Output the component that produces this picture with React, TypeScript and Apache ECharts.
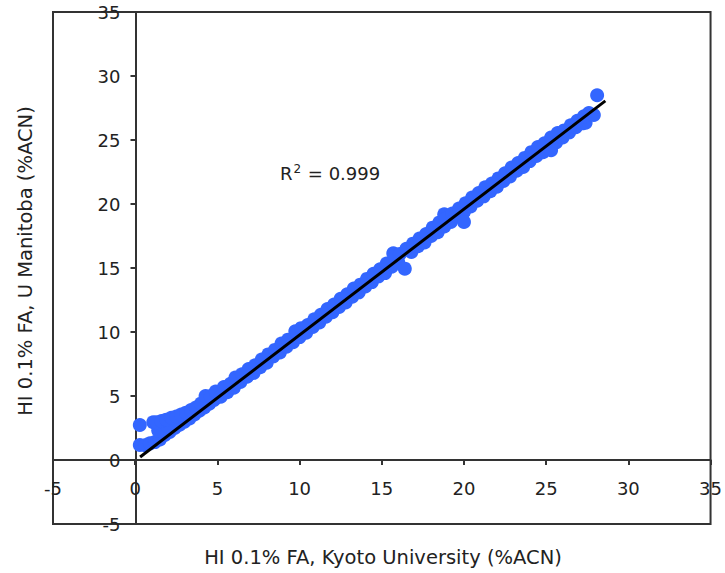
import React, { useEffect, useRef } from "react";
import * as echarts from "echarts";

// HI 0.1% FA: Kyoto University (x) vs U Manitoba (y), %ACN
const lowUpper: number[][] = [
  [1.1, 2.95], [1.3, 2.95], [1.6, 3.05], [1.9, 3.15], [2.2, 3.3], [2.5, 3.4],
  [2.8, 3.55], [3.1, 3.7], [3.4, 3.9], [3.7, 4.1], [4.0, 4.4], [4.28, 5.0],
  [4.6, 5.0], [4.9, 5.35],
];
const lowLower: number[][] = [
  [0.28, 1.17], [0.6, 1.15], [0.9, 1.3], [1.2, 1.4], [1.5, 1.6], [1.8, 1.95],
  [2.1, 2.2], [2.4, 2.5], [2.7, 2.75], [3.0, 3.0], [3.3, 3.25], [3.6, 3.55],
  [3.9, 3.85], [4.2, 4.1], [4.5, 4.4], [4.8, 4.7],
];
const lowFill: number[][] = [
  [1.4, 2.3], [2.0, 2.6], [2.6, 3.0], [3.2, 3.4], [3.8, 3.9],
];
const upperStrand: number[][] = [
  [5.4, 5.7], [5.8, 5.95], [6.1, 6.45], [6.5, 6.7], [6.9, 7.1], [7.3, 7.4],
  [7.7, 7.85], [8.1, 8.25], [8.5, 8.6], [8.9, 9.1], [9.3, 9.4], [9.74, 10.05],
  [10.1, 10.3], [10.5, 10.55], [10.9, 11.0], [11.3, 11.35], [11.7, 11.8],
  [12.1, 12.15], [12.5, 12.6], [12.9, 12.95], [13.3, 13.4], [13.7, 13.7],
  [14.1, 14.15], [14.5, 14.55], [14.9, 14.9], [15.3, 15.35], [15.7, 16.15],
  [16.1, 16.1], [16.5, 16.5], [16.9, 16.9], [17.3, 17.3], [17.7, 17.65],
  [18.1, 18.15], [18.5, 18.55], [18.8, 19.2], [18.9, 18.85], [19.3, 19.25],
  [19.7, 19.65], [20.1, 20.05], [20.5, 20.5], [20.9, 20.85], [21.3, 21.3],
  [21.7, 21.6], [22.1, 22.0], [22.5, 22.4], [22.9, 22.85], [23.3, 23.2],
  [23.7, 23.6], [24.1, 24.05], [24.5, 24.45], [24.9, 24.75], [25.3, 25.2],
  [25.7, 25.55], [26.1, 25.75], [26.5, 26.15], [26.9, 26.5], [27.3, 26.85],
  [27.6, 27.1],
];
const lowerStrand: number[][] = [
  [5.2, 4.95], [5.6, 5.3], [6.0, 5.65], [6.4, 6.1], [6.8, 6.5], [7.2, 6.8],
  [7.6, 7.25], [8.0, 7.6], [8.4, 8.1], [8.8, 8.4], [9.2, 8.85], [9.6, 9.2],
  [10.0, 9.6], [10.4, 9.95], [10.8, 10.4], [11.2, 10.75], [11.6, 11.2],
  [12.0, 11.55], [12.4, 11.95], [12.8, 12.3], [13.2, 12.75], [13.6, 13.1],
  [14.0, 13.55], [14.4, 13.9], [14.8, 14.35], [15.2, 14.6], [15.6, 15.1],
  [16.0, 15.45], [16.8, 16.25], [17.2, 16.7], [17.6, 17.0], [18.0, 17.5],
  [18.4, 17.8], [18.8, 18.25], [19.2, 18.6], [19.6, 19.05], [20.0, 19.4],
  [20.4, 19.8], [20.8, 20.25], [21.2, 20.6], [21.6, 21.0], [22.0, 21.35],
  [22.4, 21.8], [22.8, 22.15], [23.2, 22.6], [23.6, 22.9], [24.0, 23.35],
  [24.4, 23.75], [24.8, 24.05], [25.6, 24.8], [26.0, 25.2], [26.4, 25.6],
  [26.8, 26.0], [27.2, 26.3], [27.4, 26.35],
];
const outliers: number[][] = [
  [0.28, 2.73], [16.4, 14.95], [20.0, 18.6], [25.3, 24.2], [27.9, 26.95], [28.1, 28.5],
];

const trendSlope = 0.983;
const trendIntercept = -0.06;
const trendXRange = [0.3, 28.6];
const rSquared = "0.999";

const axisTitleX = "HI 0.1% FA, Kyoto University (%ACN)";
const axisTitleY = "HI 0.1% FA, U Manitoba (%ACN)";

const FONT = "Verdana, 'DejaVu Sans', sans-serif";
const INK = "#222";

const GRID = { left: 53, right: 12, top: 12, bottom: 49 };
const AX_MIN = -5;
const AX_MAX = 35;

export default function App() {
  const ref = useRef<HTMLDivElement>(null);
  useEffect(() => {
    if (!ref.current) return;
    const chart = echarts.init(ref.current, undefined, { renderer: "svg" });
    const points = [...lowLower, ...lowFill, ...lowUpper, ...lowerStrand, ...upperStrand, ...outliers];
    const trend = trendXRange.map((x) => [x, trendSlope * x + trendIntercept]);
    const plotW = 725 - GRID.left - GRID.right;
    const plotH = 573 - GRID.top - GRID.bottom;
    // move axes so they cross at zero (labels follow)
    const xOffset = -(plotH * (0 - AX_MIN)) / (AX_MAX - AX_MIN);
    const yOffset = -(plotW * (0 - AX_MIN)) / (AX_MAX - AX_MIN);
    const axisCommon = {
      type: "value" as const,
      min: AX_MIN,
      max: AX_MAX,
      interval: 5,
      splitLine: { show: false },
      axisLine: { show: true, onZero: false, lineStyle: { color: "#333", width: 2 } },
      axisTick: { show: true, length: 5, lineStyle: { color: "#333", width: 2 } },
    };
    chart.setOption({
      animation: false,
      backgroundColor: "#fff",
      grid: {
        ...GRID,
        show: true, borderColor: "#333", borderWidth: 2, backgroundColor: "transparent",
      },
      xAxis: {
        ...axisCommon,
        offset: xOffset,
        axisLabel: { fontSize: 18, color: INK, fontFamily: FONT, margin: 19, showMinLabel: true, showMaxLabel: true },
      },
      yAxis: {
        ...axisCommon,
        offset: yOffset,
        axisLabel: { fontSize: 18, color: INK, fontFamily: FONT, margin: 15, showMinLabel: true, showMaxLabel: true },
      },
      series: [
        {
          type: "scatter",
          data: points,
          symbolSize: 14,
          itemStyle: { color: "#3366FF", opacity: 1 },
          z: 2,
        },
        {
          type: "line",
          data: trend,
          symbol: "none",
          lineStyle: { color: "#000", width: 3 },
          z: 3,
        },
      ],
      graphic: [
        {
          type: "text",
          x: 383,
          y: 557,
          style: {
            text: axisTitleX, fontSize: 19.5, fontFamily: FONT, fill: INK,
            textAlign: "center", textVerticalAlign: "middle", align: "center", verticalAlign: "middle",
          },
        },
        {
          type: "text",
          x: 25,
          y: 261,
          rotation: Math.PI / 2,
          style: {
            text: axisTitleY, fontSize: 19.5, fontFamily: FONT, fill: INK,
            textAlign: "center", textVerticalAlign: "middle", align: "center", verticalAlign: "middle",
          },
        },
        {
          type: "text",
          x: 280,
          y: 173,
          style: {
            text: "R{sup|2} = " + rSquared,
            fontSize: 18, fontFamily: FONT, fill: INK,
            textAlign: "left", textVerticalAlign: "middle", align: "left", verticalAlign: "middle",
            rich: {
              sup: { fontSize: 12, fontFamily: FONT, fill: INK, verticalAlign: "top", padding: [0, 1, 8, 1] },
            },
          },
        },
      ],
    });
    return () => chart.dispose();
  }, []);
  return <div ref={ref} style={{ position: "fixed", left: 0, top: 0, width: 725, height: 573 }} />;
}
